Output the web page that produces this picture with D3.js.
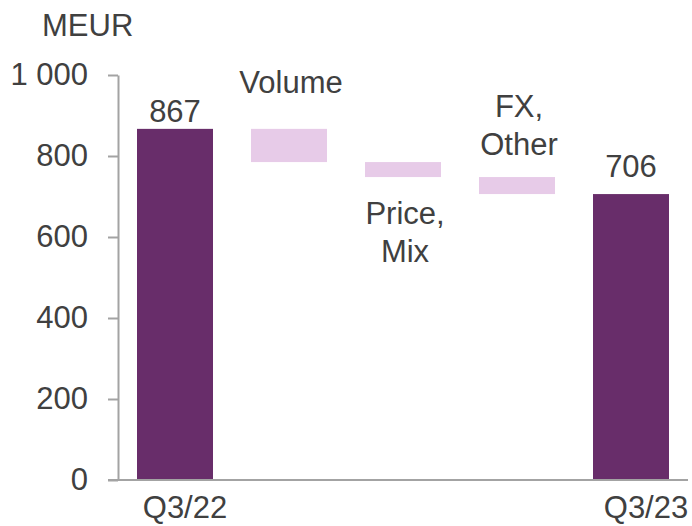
<!DOCTYPE html>
<html>
<head>
<meta charset="utf-8">
<script src="https://cdn.jsdelivr.net/npm/d3@7"></script>
<style>
  body { margin: 0; background: #fff; }
  svg text { font-family: "Liberation Sans", Arial, sans-serif; fill: #404040; }
</style>
</head>
<body>
<svg id="chart"></svg>
<script>
// waterfall data
const categories = ["Q3/22", "Volume", "Price, Mix", "FX, Other", "Q3/23"];
const values = [867, -82, -37, -42, 706];
const kinds = ["total", "delta", "delta", "delta", "total"];
const yTicks = [0, 200, 400, 600, 800, 1000];
const unitLabel = "MEUR";

const width = 692, height = 526;
const darkColor = "#682d6a", lightColor = "#e7cbe8", axisColor = "#a3a3a3";
const fontSize = 31;

const svg = d3.select("#chart").attr("width", width).attr("height", height);

// build start/end for each step
let running = 0;
const rows = categories.map((c, i) => {
    let y0, y1;
    if (kinds[i] === "total") {
        y0 = 0; y1 = values[i]; running = values[i];
    } else {
        y0 = running; y1 = running + values[i]; running = y1;
    }
    return {name: c, value: values[i], kind: kinds[i], y0: y0, y1: y1};
});

const x = d3.scaleBand()
    .domain(categories)
    .range([118, 688])
    .paddingInner(1 / 3)
    .paddingOuter(1 / 6);

const y = d3.scaleLinear().domain([0, 1000]).range([480, 75]);

const fmt = d3.formatLocale({decimal: ",", thousands: " ", grouping: [3], currency: ["", "€"]}).format(",");

// y axis
const yAxis = svg.append("g")
    .attr("transform", "translate(118,0)")
    .call(d3.axisLeft(y).tickValues(yTicks).tickSize(10).tickSizeOuter(0).tickPadding(20).tickFormat(fmt));
yAxis.select(".domain").attr("stroke", axisColor).attr("stroke-width", 2);
yAxis.selectAll(".tick line").attr("stroke", axisColor).attr("stroke-width", 2);
yAxis.selectAll(".tick text")
    .attr("font-size", fontSize)
    .attr("fill", "#404040")
    .style("font-family", "'Liberation Sans', Arial, sans-serif");

// bars
svg.append("g").selectAll("rect")
    .data(rows)
    .join("rect")
    .attr("x", d => x(d.name))
    .attr("width", x.bandwidth())
    .attr("y", d => y(Math.max(d.y0, d.y1)))
    .attr("height", d => Math.abs(y(d.y0) - y(d.y1)))
    .attr("fill", d => d.kind === "total" ? darkColor : lightColor);

// baseline
svg.append("line")
    .attr("x1", 108).attr("x2", 688)
    .attr("y1", y(0)).attr("y2", y(0))
    .attr("stroke", axisColor).attr("stroke-width", 2);

// unit label
svg.append("text")
    .attr("x", 42).attr("y", 36)
    .attr("font-size", fontSize)
    .text(unitLabel);

// totals: value above bar, category under the axis
const totals = rows.filter(d => d.kind === "total");
svg.append("g").selectAll("text")
    .data(totals)
    .join("text")
    .attr("x", d => x(d.name) + x.bandwidth() / 2)
    .attr("y", (d, i) => y(d.y1) - (i === 0 ? 7 : 17))
    .attr("text-anchor", "middle")
    .attr("font-size", fontSize)
    .text(d => d.value);

svg.append("g").selectAll("text")
    .data(totals)
    .join("text")
    .attr("x", (d, i) => x(d.name) + x.bandwidth() / 2 + (i === 0 ? 10 : 15))
    .attr("y", 518)
    .attr("text-anchor", "middle")
    .attr("font-size", fontSize)
    .text(d => d.name);

// deltas: category names, split on comma
const deltas = rows.filter(d => d.kind === "delta");
const lineGap = 38;
deltas.forEach((d, i) => {
    const parts = d.name.includes(",") ? [d.name.split(",")[0] + ",", d.name.split(",")[1].trim()] : [d.name];
    const top = y(Math.max(d.y0, d.y1));
    const bottom = y(Math.min(d.y0, d.y1));
    // Price, Mix sits under its bar, the rest above
    const below = i === 1;
    const lastBase = below ? bottom + 47 + lineGap * (parts.length - 1) : top - (i === 0 ? 36 : 22);
    const t = svg.append("text")
        .attr("text-anchor", "middle")
        .attr("font-size", fontSize);
    parts.forEach((p, j) => {
        t.append("tspan")
            .attr("x", x(d.name) + x.bandwidth() / 2 + 2)
            .attr("y", lastBase - lineGap * (parts.length - 1 - j))
            .text(p);
    });
});
</script>
</body>
</html>
